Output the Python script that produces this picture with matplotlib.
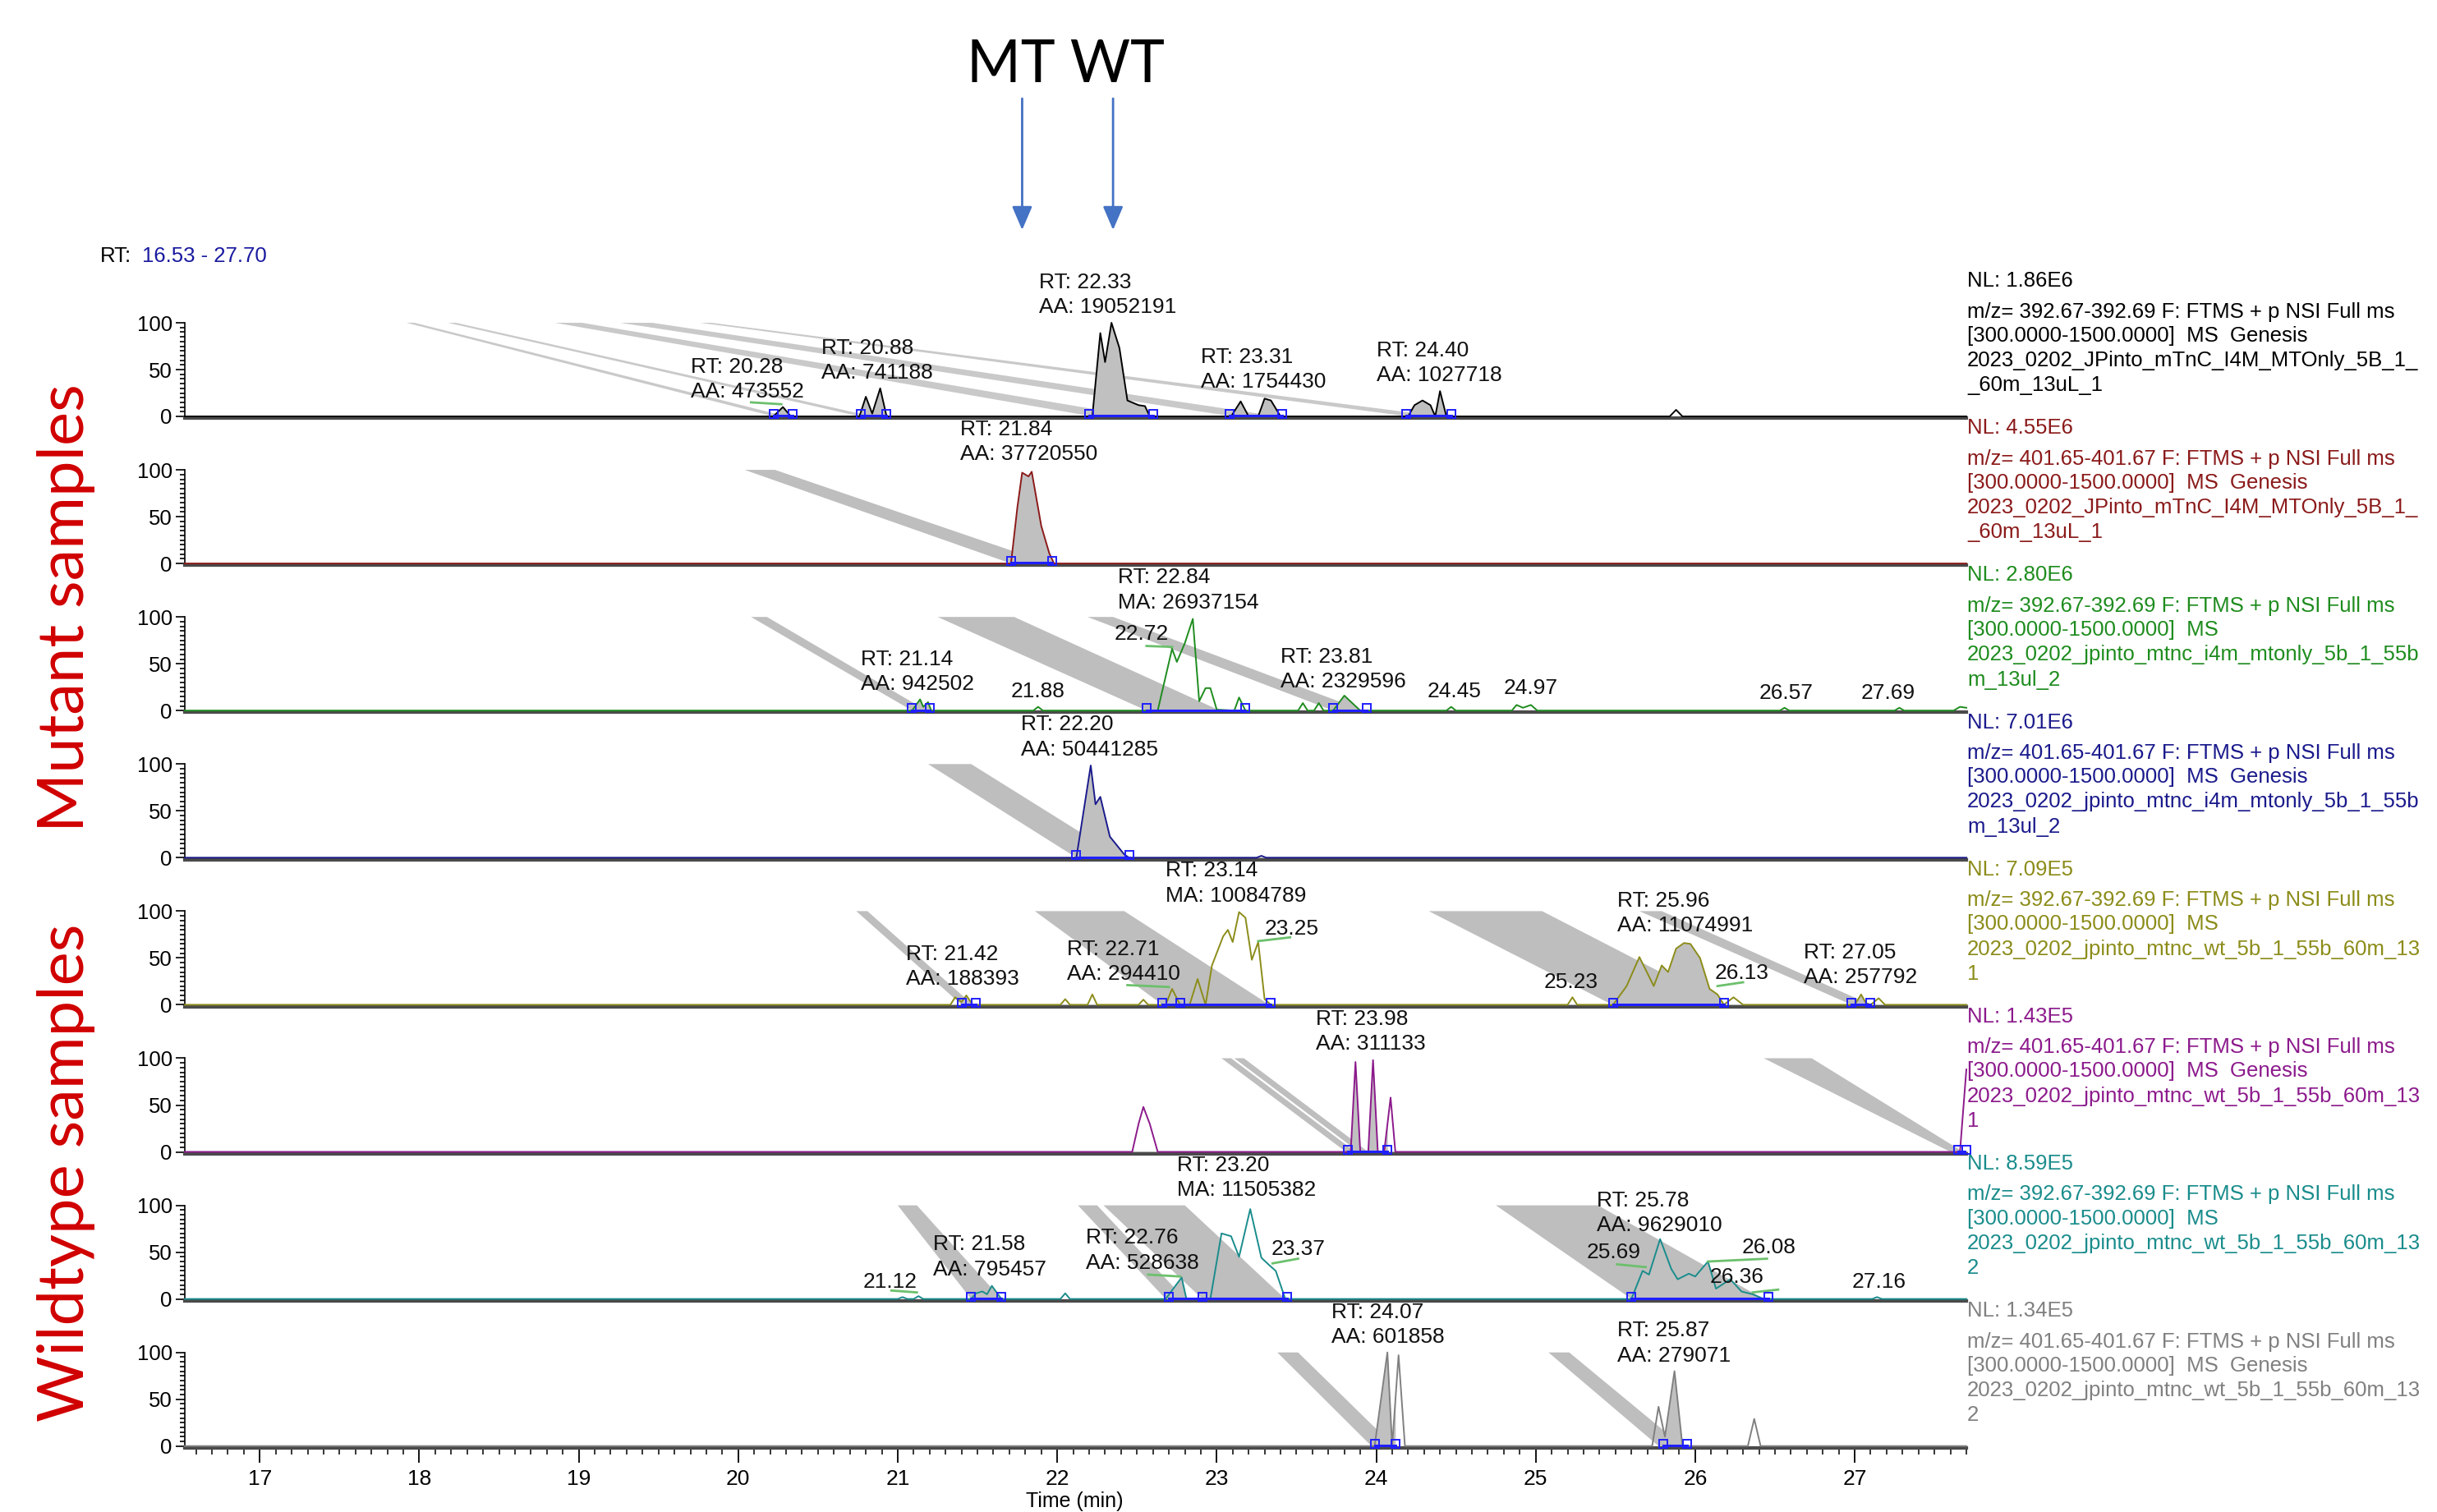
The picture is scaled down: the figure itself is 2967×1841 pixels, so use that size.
from __future__ import annotations

import numpy as np
import matplotlib

matplotlib.use("Agg")
import matplotlib.pyplot as plt
import matplotlib.transforms as mtransforms
from matplotlib.patches import Polygon
from matplotlib.ticker import MultipleLocator


W, H = 2967, 1841
X0, X1 = 16.53, 27.70
FONT = ["Liberation Sans", "DejaVu Sans"]

COLORS = ["#000000", "#8B1A1A", "#1E8C1E", "#1A1A8C", "#8C8C1A", "#8C1A8C", "#1A8C8C", "#808080"]
NL = ["1.86E6", "4.55E6", "2.80E6", "7.01E6", "7.09E5", "1.43E5", "8.59E5", "1.34E5"]
MZ = ["392.67-392.69", "401.65-401.67"] * 4
SCAN = ["[300.0000-1500.0000]  MS  Genesis", "[300.0000-1500.0000]  MS  Genesis",
        "[300.0000-1500.0000]  MS", "[300.0000-1500.0000]  MS  Genesis",
        "[300.0000-1500.0000]  MS", "[300.0000-1500.0000]  MS  Genesis",
        "[300.0000-1500.0000]  MS", "[300.0000-1500.0000]  MS  Genesis"]
FILE_A = ["2023_0202_JPinto_mTnC_I4M_MTOnly_5B_1_", "2023_0202_JPinto_mTnC_I4M_MTOnly_5B_1_",
          "2023_0202_jpinto_mtnc_i4m_mtonly_5b_1_55b", "2023_0202_jpinto_mtnc_i4m_mtonly_5b_1_55b",
          "2023_0202_jpinto_mtnc_wt_5b_1_55b_60m_13", "2023_0202_jpinto_mtnc_wt_5b_1_55b_60m_13",
          "2023_0202_jpinto_mtnc_wt_5b_1_55b_60m_13", "2023_0202_jpinto_mtnc_wt_5b_1_55b_60m_13"]
FILE_B = ["_60m_13uL_1", "_60m_13uL_1", "m_13ul_2", "m_13ul_2", "1", "1", "2", "2"]

# traces (time, relative abundance)
P1_X = [20.22, 20.28, 20.33, 20.76, 20.80, 20.84, 20.89, 20.93, 22.22, 22.27, 22.30, 22.34, 22.39,
        22.44, 22.51, 22.55, 22.58, 23.09, 23.15, 23.20, 23.26, 23.30, 23.34, 23.40, 24.20, 24.24,
        24.29, 24.34, 24.37, 24.40, 24.44, 25.84, 25.88, 25.92]
P1_Y = [0, 10, 0, 0, 21, 3, 30, 0, 0, 89, 58, 100, 73, 17, 12, 11, 0, 0, 16, 0, 0, 19, 17, 0, 0, 12,
        17, 12, 0, 27, 0, 0, 7, 0]
P2_X = [21.71, 21.75, 21.78, 21.82, 21.84, 21.90, 21.95, 21.98]
P2_Y = [0, 60, 97, 93, 98, 40, 11, 0]
P3_X = [21.09, 21.14, 21.16, 21.19, 21.21, 21.85, 21.88, 21.91, 22.63, 22.72, 22.75, 22.80, 22.85,
        22.89, 22.93, 22.96, 23.00, 23.11, 23.14, 23.18, 23.51, 23.54, 23.57, 23.61, 23.64, 23.67,
        23.73, 23.80, 23.90, 24.44, 24.47, 24.50, 24.85, 24.88, 24.92, 24.97, 25.01, 26.53, 26.56,
        26.59, 27.25, 27.28, 27.31, 27.62, 27.66, 27.70]
P3_Y = [0, 12, 4, 9, 0, 0, 4, 0, 0, 66, 52, 72, 98, 10, 24, 24, 1, 0, 14, 0, 0, 8, 0, 0, 8, 0,
        0, 16, 0, 0, 4, 0, 0, 6, 3, 6, 0, 0, 3, 0, 0, 3, 0, 0, 4, 3]
P4_X = [22.12, 22.21, 22.24, 22.27, 22.33, 22.42, 22.45, 23.25, 23.28, 23.31]
P4_Y = [0, 98.5, 57, 65, 22.5, 3.5, 0, 0, 2, 0]
P5_X = [21.33, 21.36, 21.40, 21.43, 21.47, 22.02, 22.05, 22.08, 22.19, 22.22, 22.25, 22.51, 22.54,
        22.57, 22.68, 22.72, 22.77, 22.83, 22.88, 22.93, 22.97, 23.04, 23.07, 23.10, 23.14, 23.18,
        23.22, 23.26, 23.30, 23.34, 25.20, 25.23, 25.26, 25.485, 25.57, 25.65, 25.74, 25.79, 25.83,
        25.88, 25.93, 25.97, 26.03, 26.09, 26.14, 26.18, 26.24, 26.30, 27.00, 27.04, 27.07, 27.10,
        27.15, 27.19]
P5_Y = [0, 8, 3, 10, 0, 0, 6, 0, 0, 11, 0, 0, 5.5, 0, 0, 17, 0, 0, 27.5, 0, 42, 73, 80, 67, 99, 93,
        48, 67, 6, 0, 0, 8, 0, 0, 20, 51, 20, 42, 35, 60, 66, 65, 50, 17, 11, 0, 8, 0, 0, 11, 2, 0,
        7, 0]
P6_X = [22.47, 22.51, 22.54, 22.58, 22.63, 23.84, 23.87, 23.90, 23.95, 23.98, 24.01, 24.05, 24.09,
        24.12, 27.66, 27.70]
P6_Y = [0, 30, 48, 30, 0, 0, 96, 0, 0, 98, 0, 0, 58, 0, 0, 88]
P7_X = [21.00, 21.03, 21.06, 21.10, 21.13, 21.16, 21.46, 21.49, 21.53, 21.56, 21.59, 21.65, 22.02,
        22.05, 22.08, 22.68, 22.78, 22.81, 22.96, 23.03, 23.07, 23.09, 23.14, 23.21, 23.28, 23.33,
        23.37, 23.43, 25.60, 25.67, 25.71, 25.78, 25.85, 25.89, 25.96, 26.00, 26.08, 26.13, 26.22,
        26.29, 26.36, 26.43, 27.11, 27.14, 27.17]
P7_Y = [0, 2, 0, 0, 3, 0, 0, 6, 8, 5, 14, 0, 0, 6, 0, 0, 23, 0, 0, 70, 68, 67, 45, 96, 44, 36, 30,
        0, 0, 30, 26, 64, 32, 21, 27, 24, 40, 11, 21, 8, 5, 0, 0, 2, 0]
P8_X = [23.99, 24.07, 24.10, 24.14, 24.18, 25.73, 25.77, 25.81, 25.87, 25.92, 26.33, 26.37, 26.41]
P8_Y = [0, 100, 0, 97, 0, 0, 42, 10, 80, 0, 0, 29, 0]

# integration windows (start, end, filled)
P1_WIN = [(20.22, 20.34, True), (20.77, 20.93, True), (22.20, 22.60, True), (23.08, 23.41, True),
          (24.19, 24.47, True)]
P2_WIN = [(21.71, 21.97, True)]
P3_WIN = [(21.09, 21.20, True), (22.56, 23.18, False), (23.73, 23.94, True)]
P4_WIN = [(22.12, 22.45, True)]
P5_WIN = [(21.40, 21.49, True), (22.66, 22.77, True), (22.77, 23.34, False), (25.485, 26.18, True),
          (26.98, 27.10, True)]
P6_WIN = [(23.82, 24.07, True), (27.65, 27.70, False)]
P7_WIN = [(21.46, 21.65, True), (22.70, 22.91, True), (22.91, 23.44, False), (25.60, 26.46, True)]
P8_WIN = [(23.99, 24.12, True), (25.80, 25.95, True)]

# shaded bands: (top left, top right, bottom left, bottom right)
P1_BANDS = [(17.92, 17.97, 20.22, 20.30), (18.18, 18.23, 20.76, 20.84), (18.85, 19.02, 22.22, 22.50),
            (19.26, 19.46, 23.10, 23.38), (19.76, 19.83, 24.20, 24.40)]
P2_BANDS = [(20.04, 20.23, 21.71, 21.95)]
P3_BANDS = [(20.08, 20.18, 21.09, 21.18), (21.25, 21.73, 22.56, 23.02), (22.19, 22.35, 23.73, 23.92)]
P4_BANDS = [(21.19, 21.46, 22.12, 22.40)]
P5_BANDS = [(20.74, 20.81, 21.40, 21.47), (21.86, 22.42, 22.66, 23.33), (24.33, 25.04, 25.48, 26.18),
            (25.65, 25.79, 26.98, 27.10)]
P6_BANDS = [(23.03, 23.09, 23.81, 23.87), (23.11, 23.17, 23.89, 23.95), (26.43, 26.73, 27.60, 27.68)]
P7_BANDS = [(21.00, 21.12, 21.46, 21.65), (22.13, 22.25, 22.68, 22.80), (22.29, 22.80, 22.91, 23.43),
            (24.75, 25.39, 25.60, 26.43)]
P8_BANDS = [(23.38, 23.51, 23.97, 24.11), (25.08, 25.21, 25.77, 25.92)]

# peak labels: (left x, y of first line, lines)
P1_LAB = [(21.885, 143, ("RT: 22.33", "AA: 19052191")), (19.70, 53, ("RT: 20.28", "AA: 473552")),
          (20.52, 73, ("RT: 20.88", "AA: 741188")), (22.90, 63, ("RT: 23.31", "AA: 1754430")),
          (24.00, 70, ("RT: 24.40", "AA: 1027718"))]
P2_LAB = [(21.39, 143, ("RT: 21.84", "AA: 37720550"))]
P3_LAB = [(22.38, 142, ("RT: 22.84", "MA: 26937154")), (22.36, 82, ("22.72",)),
          (20.77, 55, ("RT: 21.14", "AA: 942502")), (21.71, 20, ("21.88",)),
          (23.40, 57, ("RT: 23.81", "AA: 2329596")), (24.32, 20, ("24.45",)), (24.80, 24, ("24.97",)),
          (26.40, 19, ("26.57",)), (27.04, 19, ("27.69",))]
P4_LAB = [(21.77, 142, ("RT: 22.20", "AA: 50441285"))]
P5_LAB = [(22.68, 143, ("RT: 23.14", "MA: 10084789")), (23.30, 81, ("23.25",)),
          (21.05, 54, ("RT: 21.42", "AA: 188393")), (22.06, 59, ("RT: 22.71", "AA: 294410")),
          (25.05, 24, ("25.23",)), (25.51, 111, ("RT: 25.96", "AA: 11074991")), (26.12, 34, ("26.13",)),
          (26.68, 56, ("RT: 27.05", "AA: 257792"))]
P6_LAB = [(23.62, 142, ("RT: 23.98", "AA: 311133"))]
P7_LAB = [(22.75, 143, ("RT: 23.20", "MA: 11505382")), (23.34, 53, ("23.37",)),
          (21.22, 58, ("RT: 21.58", "AA: 795457")), (20.78, 18, ("21.12",)),
          (22.18, 65, ("RT: 22.76", "AA: 528638")), (25.38, 105, ("RT: 25.78", "AA: 9629010")),
          (25.32, 50, ("25.69",)), (26.29, 55, ("26.08",)), (26.09, 23, ("26.36",)), (26.98, 18, ("27.16",))]
P8_LAB = [(23.72, 143, ("RT: 24.07", "AA: 601858")), (25.51, 123, ("RT: 25.87", "AA: 279071"))]

# small label leader lines: (x start, x end, y start, y end)
P1_LEAD = [(20.08, 20.27, 15, 13)]
P3_LEAD = [(22.56, 22.72, 69, 68)]
P5_LEAD = [(23.26, 23.46, 68, 72), (26.14, 26.30, 20, 24), (22.44, 22.70, 21, 19)]
P7_LEAD = [(20.96, 21.12, 9, 7), (22.57, 22.77, 26, 24), (23.35, 23.51, 38, 43), (25.51, 25.69, 37, 34),
           (26.08, 26.45, 40, 43), (26.36, 26.52, 7, 10)]

MARK_X = [21.78, 22.35]

PANELS = [
    (P1_X, P1_Y, P1_WIN, P1_BANDS, P1_LAB, P1_LEAD),
    (P2_X, P2_Y, P2_WIN, P2_BANDS, P2_LAB, []),
    (P3_X, P3_Y, P3_WIN, P3_BANDS, P3_LAB, P3_LEAD),
    (P4_X, P4_Y, P4_WIN, P4_BANDS, P4_LAB, []),
    (P5_X, P5_Y, P5_WIN, P5_BANDS, P5_LAB, P5_LEAD),
    (P6_X, P6_Y, P6_WIN, P6_BANDS, P6_LAB, []),
    (P7_X, P7_Y, P7_WIN, P7_BANDS, P7_LAB, P7_LEAD),
    (P8_X, P8_Y, P8_WIN, P8_BANDS, P8_LAB, []),
]

# layout in pixels
LEFT_PX, RIGHT_PX = 225, 2394
TOP0_PX, STEP_PX, SPAN_PX = 393, 179.1, 114
YMIN, YMAX = -2, 101
LINE_STEP = 26.5
FS = 19


def full_trace(px, py):
    x = [X0] + list(px)
    y = [0] + list(py)
    if x[-1] < X1:
        x.append(X1)
        y.append(0)
    return np.array(x), np.array(y)


def draw_panel(fig, i, data):
    px, py, wins, bands, labels, leads = data
    color = COLORS[i]
    unit = SPAN_PX / 100
    top = TOP0_PX + STEP_PX * i - (YMAX - 100) * unit
    bot = TOP0_PX + STEP_PX * i + SPAN_PX - YMIN * unit
    ax = fig.add_axes([LEFT_PX / W, 1 - bot / H, (RIGHT_PX - LEFT_PX) / W, (bot - top) / H])
    ax.set_xlim(X0, X1)
    ax.set_ylim(YMIN, YMAX)
    ax.patch.set_alpha(0)

    band_color = "#C9C9C9" if i == 0 else "#BEBEBE"
    for tl, tr, bl, br in bands:
        ax.add_patch(Polygon([(tl, 100), (tr, 100), (br, 0), (bl, 0)], closed=True,
                             facecolor=band_color, edgecolor="none", zorder=1))

    x, y = full_trace(px, py)
    for s, e, filled in wins:
        if filled:
            xs = np.concatenate([[s], x[(x > s) & (x < e)], [e]])
            ys = np.interp(xs, x, y)
            ax.fill_between(xs, ys, 0, color="#C0C0C0", lw=0, zorder=2)
    ax.plot(x, y, color=color, lw=1.4, zorder=3, clip_on=False)

    for s, e, _ in wins:
        ax.plot([s, e], [0.6, 0.6], color="#1F1FFF", lw=2.2, zorder=4)
        ax.plot([s, e], [2.5, 2.5], ls="none", marker="s", ms=7, mfc="none", mec="#1F1FFF",
                mew=1.4, zorder=5, clip_on=False)

    for xa, xb, ya, yb in leads:
        ax.plot([xa, xb], [ya, yb], color="#6CC06C", lw=2, zorder=4)

    for lx, ly, lines in labels:
        for k, line in enumerate(lines):
            ax.text(lx, ly - k * LINE_STEP, line, fontsize=FS, family=FONT, ha="left", va="center",
                    color="#111111", zorder=6)

    trans = mtransforms.blended_transform_factory(ax.transAxes, ax.transData)
    right = [("NL: " + NL[i], 144.5), ("m/z= " + MZ[i] + " F: FTMS + p NSI Full ms", 111.5),
             (SCAN[i], 86), (FILE_A[i], 59.5), (FILE_B[i], 33)]
    for text, ty in right:
        ax.text(1.0005, ty, text, transform=trans, fontsize=FS - 0.5, family=FONT, ha="left",
                va="center", color=COLORS[i] if i != 0 else "#000000")

    for side in ("top", "right"):
        ax.spines[side].set_visible(False)
    ax.spines["left"].set_bounds(0, 100)
    ax.spines["left"].set_linewidth(1.2)
    ax.spines["bottom"].set_color("#4A4A4A")
    ax.spines["bottom"].set_linewidth(3)
    ax.axhline(YMIN + 0.3, color="#BDBDBD", lw=3, zorder=0, clip_on=False)

    ax.set_yticks([0, 50, 100])
    ax.set_yticklabels(["0", "50", "100"], family=FONT)
    ax.yaxis.set_minor_locator(MultipleLocator(5))
    ax.tick_params(axis="y", which="major", length=8, width=1.2, labelsize=FS - 0.5, pad=3)
    ax.tick_params(axis="y", which="minor", length=4, width=1.2)
    ax.set_ylim(YMIN, YMAX)

    if i == len(PANELS) - 1:
        ax.set_xticks(range(17, 28))
        ax.set_xticklabels([str(v) for v in range(17, 28)], family=FONT)
        ax.xaxis.set_minor_locator(MultipleLocator(0.1))
        ax.tick_params(axis="x", which="major", length=13, width=1.3, labelsize=FS, pad=6)
        ax.tick_params(axis="x", which="minor", length=6, width=1.1)
    else:
        ax.tick_params(axis="x", which="both", bottom=False, labelbottom=False)
    return ax


def main() -> None:
    fig = plt.figure(figsize=(W / 100, H / 100), dpi=100)
    axes = [draw_panel(fig, i, data) for i, data in enumerate(PANELS)]

    top_ax = axes[0]
    unit = SPAN_PX / 100
    tip = 100 + (TOP0_PX - 280) / unit
    tail = 100 + (TOP0_PX - 120) / unit
    for mx in MARK_X:
        top_ax.annotate("", xy=(mx, tip), xytext=(mx, tail), annotation_clip=False,
                        arrowprops=dict(arrowstyle="-|>,head_length=0.7,head_width=0.3",
                                        color="#4472C4", lw=2, mutation_scale=25,
                                        shrinkA=0, shrinkB=0))

    fig.text(1297 / W, 1 - 80 / H, "MT WT", fontsize=51, family=["Lato", "DejaVu Sans"],
             ha="center", va="center", color="#000000")
    fig.text(122 / W, 1 - 312 / H, "RT:", fontsize=FS - 0.5, family=FONT, ha="left", va="center")
    fig.text(173 / W, 1 - 312 / H, "16.53 - 27.70", fontsize=FS - 0.5, family=FONT, ha="left",
             va="center", color="#1A1AA0")
    fig.text(81 / W, 1 - 740 / H, "Mutant samples", rotation=90, fontsize=56,
             family=["Lato", "DejaVu Sans"], ha="center", va="center", color="#D00000")
    fig.text(81 / W, 1 - 1428 / H, "Wildtype samples", rotation=90, fontsize=56,
             family=["Lato", "DejaVu Sans"], ha="center", va="center", color="#D00000")
    fig.text(1308 / W, 1 - 1828 / H, "Time (min)", fontsize=FS - 1, family=FONT, ha="center",
             va="center")

    fig.savefig("out.png", dpi=100)
    plt.close(fig)


if __name__ == "__main__":
    main()
